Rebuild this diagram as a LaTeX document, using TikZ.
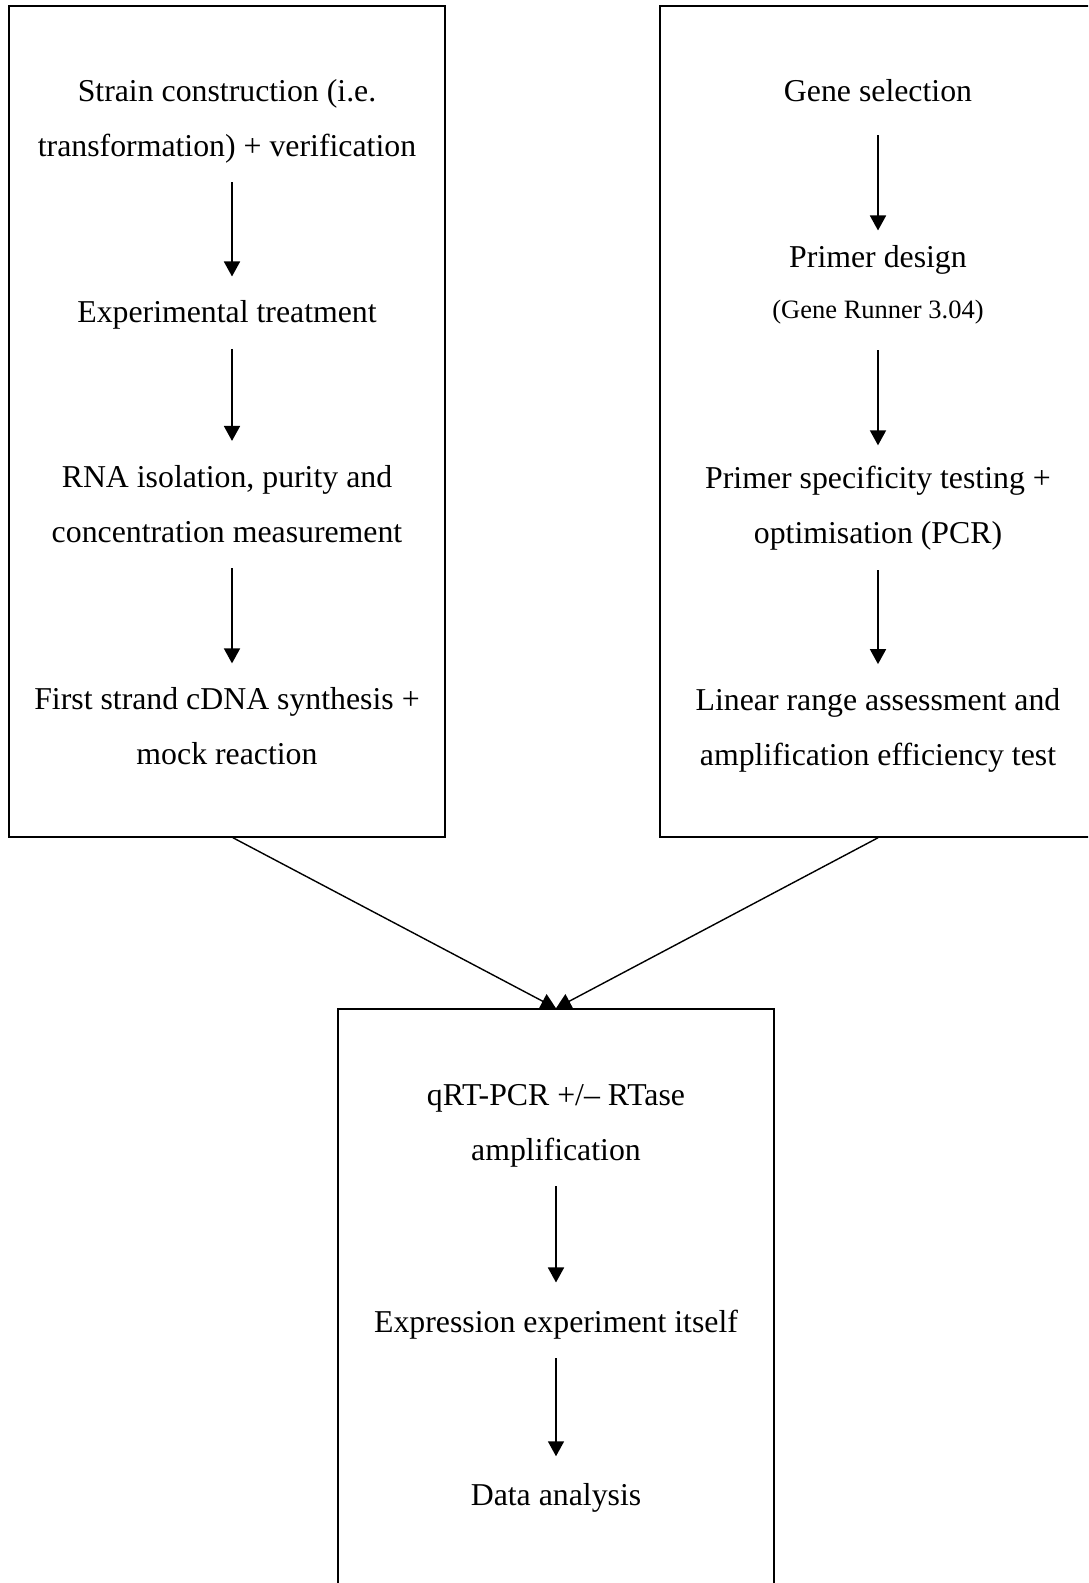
\documentclass[tikz,border=0pt]{standalone}
\usepackage{fontspec}
\setmainfont{Liberation Serif}
\usetikzlibrary{positioning}
\usetikzlibrary{arrows.meta}

\newcommand{\stepstrut}{\rule[-7pt]{0pt}{29pt}}

\begin{document}
\begin{tikzpicture}[x=1pt,y=1pt,>={Triangle[width=16pt,length=15pt]},
	frame/.style={draw,line width=1.5pt,inner sep=0pt,minimum width=436pt},
	stepnode/.style={align=center,inner sep=0pt,font=\fontsize{31.8pt}{55pt}\selectfont,execute at begin node=\stepstrut,execute at end node=\stepstrut},
	notenode/.style={stepnode,font=\fontsize{26.5pt}{50pt}\selectfont},
	flow/.style={->,line width=1.8pt,shorten <=19pt,shorten >=24pt},
	merge/.style={->,line width=1.4pt},]
	    \clip (0,0) rectangle (1088,-1583);
	    % the three frames
		    \node[frame,minimum height=831pt] (leftbox) at (227,-421.5) {};
		    \node[frame,minimum height=831pt] (rightbox) at (878,-421.5) {};
		    \node[frame,minimum height=611pt] (bottombox) at (556,-1314.5) {};
	    % left column
		    \node[stepnode,anchor=north] (l1) at (227,-79) {Strain construction (i.e.\\transformation) + verification};
		    \node[stepnode] (l2) [below=137pt of l1] {Experimental treatment};
		    \node[stepnode] (l3) [below=135pt of l2] {RNA isolation, purity and\\concentration measurement};
		    \node[stepnode] (l4) [below=138pt of l3] {First strand cDNA synthesis +\\mock reaction};
	    % right column
		    \node[stepnode,anchor=north] (r1) at (878,-79) {Gene selection};
		    \node[stepnode] (r2) [below=137pt of r1] {Primer design};
		    \node[notenode] (r2note) [below=21pt of r2] {(Gene Runner 3.04)};
		    \node[stepnode] (r3) [below=141pt of r2note] {Primer specificity testing +\\optimisation (PCR)};
		    \node[stepnode] (r4) [below=137pt of r3] {Linear range assessment and\\amplification efficiency test};
	    % bottom column
		    \node[stepnode,anchor=north] (b1) at (556,-1084) {qRT-PCR +/-- RTase\\amplification};
		    \node[stepnode] (b2) [below=142pt of b1] {Expression experiment itself};
		    \node[stepnode] (b3) [below=144pt of b2] {Data analysis};
	    % arrows
		    \draw[flow] ([xshift=5pt]l1.south) -- ([xshift=5pt]l2.north);
		    \draw[flow] ([xshift=5pt]l2.south) -- ([xshift=5pt]l3.north);
		    \draw[flow] ([xshift=5pt]l3.south) -- ([xshift=5pt]l4.north);
		    \draw[flow,shorten <=27pt,shorten >=15pt] (r1) -- (r2);
		    \draw[flow,shorten <=25pt,shorten >=21pt] (r2note) -- (r3);
		    \draw[flow] (r3) -- (r4);
		    \draw[flow,shorten >=27pt] (b1) -- (b2);
		    \draw[flow,shorten >=27pt] (b2) -- (b3);
		    \draw[merge] ([xshift=6pt]leftbox.south) -- (bottombox.north);
		    \draw[merge] (rightbox.south) -- (bottombox.north);
		\end{tikzpicture}
\end{document}
